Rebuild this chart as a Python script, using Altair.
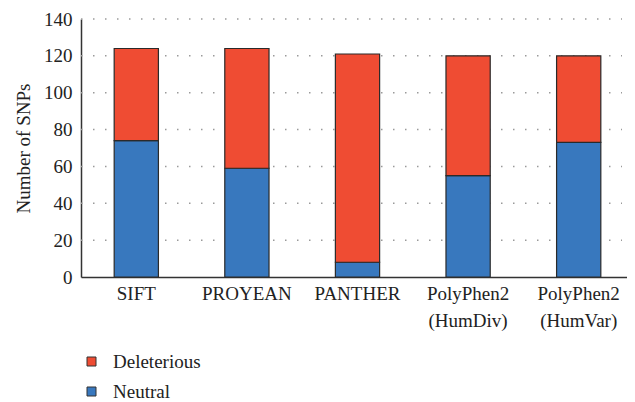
import altair as alt
import pandas as pd

tools = ["SIFT", "PROYEAN", "PANTHER", "PolyPhen2\n(HumDiv)", "PolyPhen2\n(HumVar)"]
neutral = [74, 59, 8, 55, 73]
deleterious = [50, 65, 113, 65, 47]
classes = ["Deleterious", "Neutral"]
colors = ["#EF4C33", "#3878BE"]
y_ticks = [20, 40, 60, 80, 100, 120, 140]

rows = []
for t, n, d in zip(tools, neutral, deleterious):
    rows.append({"tool": t, "cls": "Neutral", "value": n, "ord": 0})
    rows.append({"tool": t, "cls": "Deleterious", "value": d, "ord": 1})
df = pd.DataFrame(rows)
grid_df = pd.DataFrame({"value": y_ticks})

FONT = "'Liberation Serif', 'Times New Roman', serif"
W, H = 541, 258

y_axis = alt.Axis(
    title="Number of SNPs",
    values=[0, 20, 40, 60, 80, 100, 120, 140],
    labelOverlap=False,
    grid=False,
    ticks=False,
    labelPadding=9,
    labelFont=FONT,
    labelFontSize=19,
    labelColor="#222",
    titleFont=FONT,
    titleFontSize=19,
    titleFontWeight="normal",
    titleColor="#222",
    titlePadding=10,
    domainColor="#333",
    domainWidth=1.5,
)

grid = alt.Chart(grid_df).mark_rule(
    color="#9a9a9a", strokeWidth=1.5, strokeDash=[1.5, 10.5]
).encode(
    y=alt.Y("value:Q", scale=alt.Scale(domain=[0, 140]), axis=y_axis),
    x=alt.value(0),
    x2=alt.value(541),
)

bars = alt.Chart(df).mark_bar(stroke="#2a2a2a", strokeWidth=1.2).encode(
    x=alt.X(
        "tool:N",
        sort=tools,
        scale=alt.Scale(paddingInner=0.6, paddingOuter=0.3, range=[0, 553]),
        axis=alt.Axis(
            title=None,
            labelAngle=0,
            ticks=False,
            labelPadding=7,
            labelFont=FONT,
            labelFontSize=19,
            labelColor="#222",
            labelLineHeight=27,
            labelExpr="split(datum.label, '\\n')",
            domainColor="#333",
            domainWidth=1.5,
        ),
    ),
    y=alt.Y(
        "value:Q",
        stack="zero",
        scale=alt.Scale(domain=[0, 140]),
        axis=y_axis,
    ),
    color=alt.Color(
        "cls:N",
        scale=alt.Scale(domain=classes, range=colors),
        legend=alt.Legend(
            title=None,
            orient="none",
            legendX=1,
            legendY=333,
            symbolType="square",
            symbolSize=81,
            symbolStrokeColor="#333",
            symbolStrokeWidth=1,
            symbolOpacity=1,
            labelFont=FONT,
            labelFontSize=19,
            labelColor="#222",
            labelOffset=12,
            rowPadding=10,
            padding=0,
        ),
    ),
    order=alt.Order("ord:Q", sort="ascending"),
)

chart = alt.layer(grid, bars).properties(
    width=W,
    height=H,
    autosize=alt.AutoSizeParams(type="none"),
    padding={"left": 73, "top": 11, "right": 5, "bottom": 125},
).configure_view(stroke=None)

chart.save("out.html", embed_options={"renderer": "svg", "actions": False})
